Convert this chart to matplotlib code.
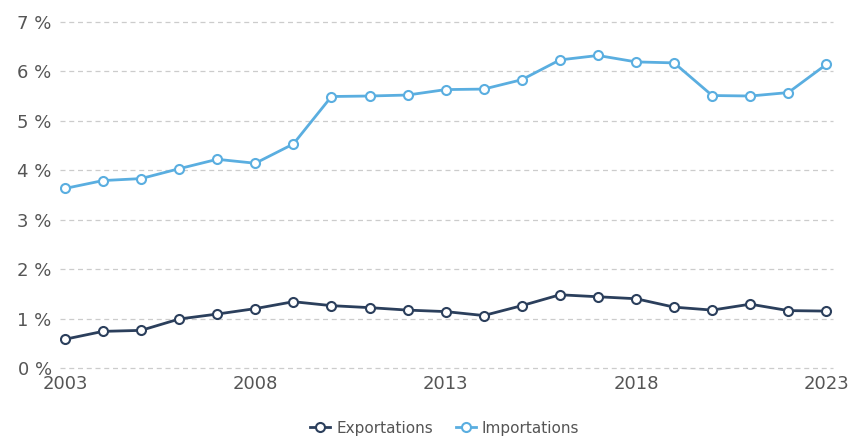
# Exportations / importations en % — courbes 2003-2023

import numpy as np
import matplotlib.pyplot as plt

years = list(range(2003, 2024))

exportations = [0.58, 0.74, 0.76, 0.99, 1.09, 1.20, 1.34, 1.26, 1.22, 1.17, 1.14,
                1.06, 1.26, 1.48, 1.44, 1.40, 1.23, 1.17, 1.29, 1.16, 1.15]
importations = [3.63, 3.79, 3.83, 4.03, 4.22, 4.14, 4.53, 5.49, 5.50, 5.52, 5.63,
                5.64, 5.83, 6.23, 6.32, 6.19, 6.17, 5.51, 5.50, 5.57, 6.14]

yticks = [0, 1, 2, 3, 4, 5, 6, 7]
xticks = [2003, 2008, 2013, 2018, 2023]

color_exp = '#2b3f5c'
color_imp = '#5aaee0'
text_color = '#555555'


def save_and_show():
    fig = plt.figure(figsize=(8.52, 4.37), dpi=100)
    ax = fig.add_axes([0.0704, 0.158, 0.9076, 0.792])

    ax.plot(years, exportations, color=color_exp, lw=2, marker='o', ms=6.5,
            mfc='white', mec=color_exp, mew=1.5, label='Exportations', zorder=3)
    ax.plot(years, importations, color=color_imp, lw=2, marker='o', ms=6.5,
            mfc='white', mec=color_imp, mew=1.5, label='Importations', zorder=3)

    ax.set_xlim(2002.87, 2023.18)
    ax.set_ylim(0, 7)
    ax.set_yticks(yticks)
    ax.set_yticklabels([f'{v} %' for v in yticks])
    ax.set_xticks(xticks)
    ax.set_xticklabels([str(v) for v in xticks])

    ax.grid(axis='y', color='#cccccc', ls=(0, (4, 3)), lw=0.9)
    for gl in ax.get_ygridlines():
        gl.set_clip_on(False)
    ax.set_axisbelow(True)
    for s in ax.spines.values():
        s.set_visible(False)
    ax.tick_params(axis='both', length=0, labelsize=13, colors=text_color)
    ax.tick_params(axis='y', pad=6)
    ax.tick_params(axis='x', pad=5)

    leg = fig.legend(loc='center', bbox_to_anchor=(0.522, 0.02), ncol=2, frameon=False,
                     fontsize=11, handlelength=1.3, columnspacing=1.5, handletextpad=0.4)
    for t in leg.get_texts():
        t.set_color(text_color)

    fig.savefig('out.png', dpi=100)


if __name__ == '__main__':
    plt.rcParams['font.family'] = ['DejaVu Sans']
    save_and_show()
